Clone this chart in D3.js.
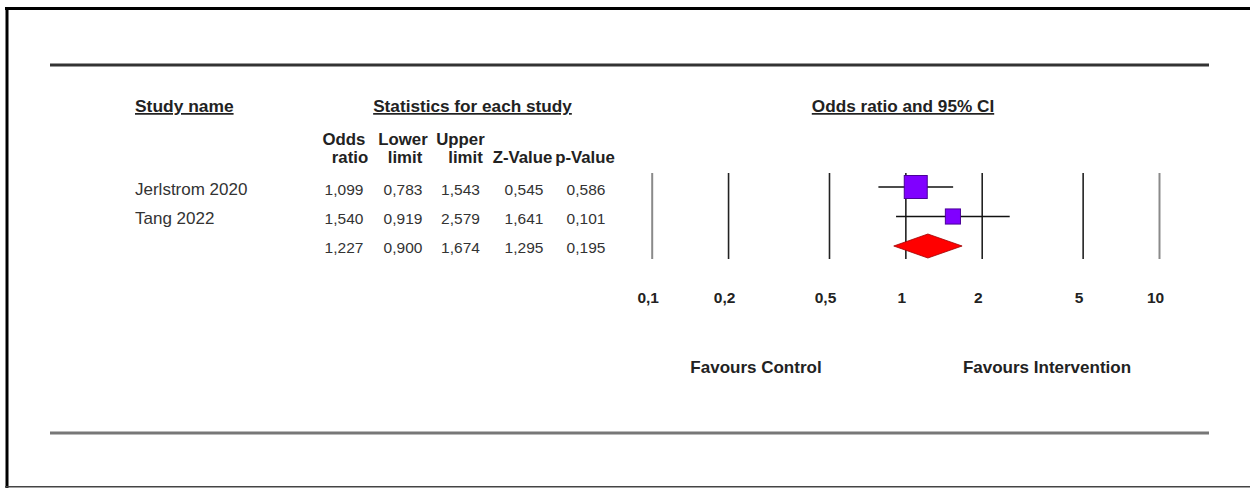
<!DOCTYPE html>
<html>
<head>
<meta charset="utf-8">
<script src="https://cdn.jsdelivr.net/npm/d3@7"></script>
<style>
  html, body { margin: 0; padding: 0; background: #fff; }
  svg { display: block; font-family: "Liberation Sans", Arial, sans-serif; }
  .bold { font-weight: bold; }
  .ul { text-decoration: underline; }
</style>
</head>
<body>
<svg id="chart" width="1250" height="488"></svg>
<script>
// Study rows (the last row is the pooled estimate)
const studies   = ["Jerlstrom 2020", "Tang 2022", ""];
const oddsRatio = [1.099, 1.540, 1.227];
const lowerCI   = [0.783, 0.919, 0.900];
const upperCI   = [1.543, 2.579, 1.674];
const zValue    = [0.545, 1.641, 1.295];
const pValue    = [0.586, 0.101, 0.195];
const weights   = [69.8, 30.2];   // relative study weights (%)
const isSummary = [false, false, true];

const tickValues = [0.1, 0.2, 0.5, 1, 2, 5, 10];
const tickLabels = ["0,1", "0,2", "0,5", "1", "2", "5", "10"];
const colHeadTop = ["Odds", "Lower", "Upper", "", ""];
const colHeadBot = ["ratio", "limit", "limit", "Z-Value", "p-Value"];

const fmt = v => d3.format(".3f")(v).replace(".", ",");

const svg = d3.select("#chart");

// page frame
svg.append("line").attr("x1", 5).attr("x2", 1250).attr("y1", 8.5).attr("y2", 8.5)
  .attr("stroke", "#000").attr("stroke-width", 3);
svg.append("line").attr("x1", 7).attr("x2", 7).attr("y1", 7).attr("y2", 488)
  .attr("stroke", "#000").attr("stroke-width", 3);
svg.append("line").attr("x1", 5).attr("x2", 1250).attr("y1", 486.8).attr("y2", 486.8)
  .attr("stroke", "#444").attr("stroke-width", 1.5);

// horizontal rules
svg.append("line").attr("x1", 50).attr("x2", 1209).attr("y1", 65).attr("y2", 65)
  .attr("stroke", "#333").attr("stroke-width", 3);
svg.append("line").attr("x1", 50).attr("x2", 1209).attr("y1", 433).attr("y2", 433)
  .attr("stroke", "#777").attr("stroke-width", 3);

// section titles
svg.append("text").attr("class", "bold ul").attr("x", 135).attr("y", 112)
  .attr("font-size", 17.4).attr("fill", "#222").text("Study name");
svg.append("text").attr("class", "bold ul").attr("x", 472.5).attr("y", 112)
  .attr("text-anchor", "middle").attr("font-size", 17.2).attr("fill", "#222")
  .text("Statistics for each study");
svg.append("text").attr("class", "bold ul").attr("x", 903).attr("y", 112)
  .attr("text-anchor", "middle").attr("font-size", 17.2).attr("fill", "#222")
  .text("Odds ratio and 95% CI");

// table columns
const colX = [344, 403, 460.5, 524, 586];
const headDx = [[0, 6], [0, 2], [0, 5], [0, -1.5], [0, -1]];
colHeadTop.forEach((t, i) => {
  svg.append("text").attr("class", "bold").attr("x", colX[i] + headDx[i][0]).attr("y", 145)
    .attr("text-anchor", "middle").attr("font-size", 16.8).attr("fill", "#222").text(t);
  svg.append("text").attr("class", "bold").attr("x", colX[i] + headDx[i][1]).attr("y", 163)
    .attr("text-anchor", "middle").attr("font-size", 16.8).attr("fill", "#222").text(colHeadBot[i]);
});

// row positions
const y = d3.scalePoint().domain(d3.range(studies.length)).range([187, 246]);
const textBase = [195, 224, 253];

studies.forEach((s, i) => {
  svg.append("text").attr("x", 135).attr("y", textBase[i])
    .attr("font-size", 17).attr("fill", "#333").text(s);
  const vals = [oddsRatio[i], lowerCI[i], upperCI[i], zValue[i], pValue[i]];
  vals.forEach((v, j) => {
    svg.append("text").attr("x", colX[j]).attr("y", textBase[i])
      .attr("text-anchor", "middle").attr("font-size", 15.5).attr("fill", "#333").text(fmt(v));
  });
});

// forest plot
const x = d3.scaleLog().domain([0.1, 10]).range([651.7, 1159]);

const axis = d3.axisBottom(x)
  .tickValues(tickValues)
  .tickFormat((d, i) => tickLabels[i])
  .tickSizeInner(-86)
  .tickSizeOuter(0)
  .tickPadding(32.5);

const gAxis = svg.append("g").attr("transform", "translate(0,259)").call(axis);
gAxis.select(".domain").remove();
gAxis.selectAll(".tick line")
  .attr("stroke", (d, i) => (i === 0 || i === tickValues.length - 1) ? "#8a8a8a" : "#222")
  .attr("stroke-width", (d, i) => (i === 0 || i === tickValues.length - 1) ? 2 : 1.6);
gAxis.selectAll(".tick text")
  .attr("font-family", "\"Liberation Sans\", Arial, sans-serif")
  .attr("font-size", 15.5).attr("font-weight", "bold").attr("fill", "#222")
  .attr("dx", -4);

// confidence intervals for individual studies
const side = d3.scaleSqrt().domain([0, 100]).range([0, 27.5]);
const plot = svg.append("g");
studies.forEach((s, i) => {
  if (isSummary[i]) return;
  plot.append("line")
    .attr("x1", x(lowerCI[i])).attr("x2", x(upperCI[i]))
    .attr("y1", y(i)).attr("y2", y(i))
    .attr("stroke", "#111").attr("stroke-width", 1.6);
  const w = side(weights[i]);
  plot.append("rect")
    .attr("x", x(oddsRatio[i]) - w / 2).attr("y", y(i) - w / 2)
    .attr("width", w).attr("height", w)
    .attr("fill", "#8000ff").attr("stroke", "#4a0099").attr("stroke-width", 1);
});

// pooled estimate diamond
studies.forEach((s, i) => {
  if (!isSummary[i]) return;
  const cy = y(i), h = 12;
  plot.append("path")
    .attr("d", `M${x(lowerCI[i])},${cy} L${x(oddsRatio[i])},${cy - h} L${x(upperCI[i])},${cy} L${x(oddsRatio[i])},${cy + h} Z`)
    .attr("fill", "#ff0000").attr("stroke", "#a00000").attr("stroke-width", 0.8);
});

// direction labels
svg.append("text").attr("class", "bold").attr("x", 756).attr("y", 373)
  .attr("text-anchor", "middle").attr("font-size", 17).attr("fill", "#222").text("Favours Control");
svg.append("text").attr("class", "bold").attr("x", 1047).attr("y", 373)
  .attr("text-anchor", "middle").attr("font-size", 17).attr("fill", "#222").text("Favours Intervention");
</script>
</body>
</html>
